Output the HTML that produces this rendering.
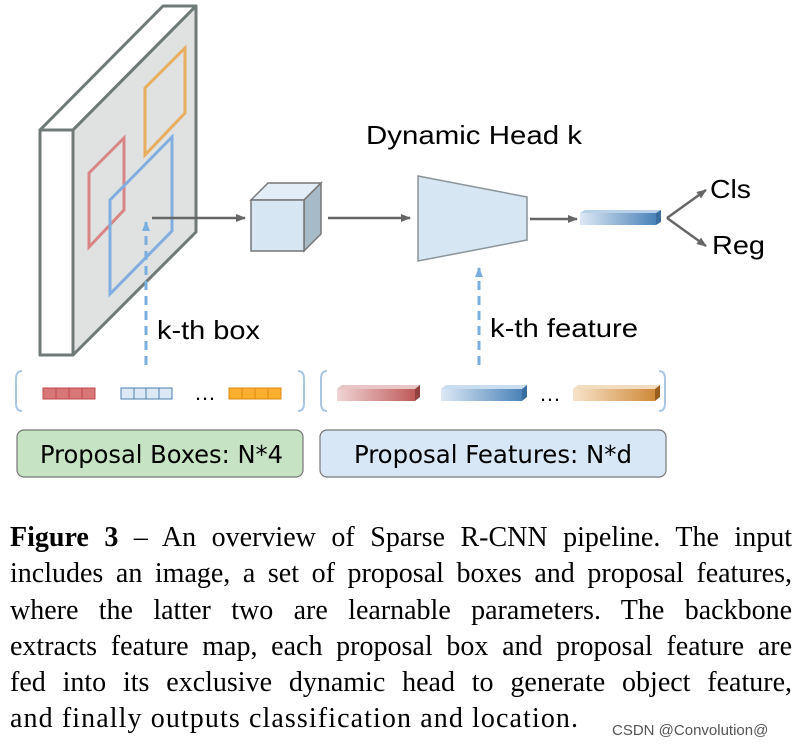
<!DOCTYPE html>
<html><head><style>
body{margin:0;background:#fff;width:802px;height:748px;overflow:hidden;position:relative}
.cap{position:absolute;left:10px;width:782px;font-family:"Liberation Serif",serif;font-size:28px;line-height:36.3px;top:520px;color:#000}
.cap div{text-align:justify;text-align-last:justify;white-space:nowrap}
.cap div.last{text-align-last:left;letter-spacing:1.1px}
</style></head><body>
<svg width="802" height="500" style="position:absolute;left:0;top:0" font-family="Liberation Sans, sans-serif">
<defs>
<marker id="ag" markerWidth="10" markerHeight="10" refX="9" refY="5" orient="auto" markerUnits="userSpaceOnUse"><path d="M0,1 L10,5 L0,9z" fill="#666"/></marker>
<marker id="ab" markerWidth="10" markerHeight="10" refX="9" refY="5" orient="auto" markerUnits="userSpaceOnUse"><path d="M0,1 L10,5 L0,9z" fill="#7aaede"/></marker>
<linearGradient id="gr" x1="0" x2="1"><stop offset="0" stop-color="#f0d4d4"/><stop offset="1" stop-color="#c05a5a"/></linearGradient>
<linearGradient id="gb" x1="0" x2="1"><stop offset="0" stop-color="#dde9f5"/><stop offset="1" stop-color="#4a82b8"/></linearGradient>
<linearGradient id="go" x1="0" x2="1"><stop offset="0" stop-color="#f7e3c9"/><stop offset="1" stop-color="#d08a3a"/></linearGradient>
</defs>
<g stroke="#6f7a78" stroke-width="3" stroke-linejoin="round">
<polygon points="40,130 163,6 196,6 73,130" fill="#fff"/>
<polygon points="73,130 196,6 196,232 73,355" fill="#dfe2e1"/>
<rect x="40" y="130" width="33" height="225" fill="#fff"/>
</g>
<g fill="none" stroke-width="3">
<polygon points="145,88 185,48 185,113 145,155" stroke="#e8ad5f"/>
<polygon points="89,173 124,138 124,210 89,247" stroke="#d98585"/>
<polygon points="110,200 172,137 172,231 110,294" stroke="#80aee0"/>
</g>
<line x1="152" y1="218" x2="245" y2="218" stroke="#666" stroke-width="2.5" marker-end="url(#ag)"/>
<line x1="146" y1="365" x2="146" y2="222" stroke="#7aaede" stroke-width="3" stroke-dasharray="9,6" marker-end="url(#ab)"/>
<text x="157" y="339" font-size="26" textLength="103" lengthAdjust="spacingAndGlyphs">k-th box</text>
<g stroke="#777" stroke-width="1.5">
<polygon points="251,200 268,183 321,183 304,200" fill="#e2edf7"/>
<polygon points="304,200 321,183 321,234 304,251" fill="#a7bac8"/>
<rect x="251" y="200" width="53" height="51" fill="#d6e6f3"/>
</g>
<line x1="328" y1="218" x2="410" y2="218" stroke="#666" stroke-width="2.5" marker-end="url(#ag)"/>
<text x="366" y="144" font-size="26" textLength="216" lengthAdjust="spacingAndGlyphs">Dynamic Head k</text>
<polygon points="418,176 527,197 527,240 418,261" fill="#d7e6f3" stroke="#8a9499" stroke-width="1.5"/>
<line x1="530" y1="219" x2="577" y2="219" stroke="#666" stroke-width="2.5" marker-end="url(#ag)"/>
<polygon points="580,213 585,210 661,210 656,213" fill="#b9d1e8"/>
<polygon points="656,213 661,210 661,222 656,225" fill="#3a6e9e"/>
<rect x="580" y="213" width="76" height="12" fill="url(#gb)"/>
<line x1="667" y1="218" x2="706" y2="190" stroke="#666" stroke-width="2.5" marker-end="url(#ag)"/>
<line x1="667" y1="218" x2="706" y2="246" stroke="#666" stroke-width="2.5" marker-end="url(#ag)"/>
<text x="710" y="198" font-size="26" textLength="41" lengthAdjust="spacingAndGlyphs">Cls</text>
<text x="712" y="254" font-size="26" textLength="53" lengthAdjust="spacingAndGlyphs">Reg</text>
<line x1="479" y1="365" x2="479" y2="268" stroke="#7aaede" stroke-width="3" stroke-dasharray="9,6" marker-end="url(#ab)"/>
<text x="490" y="337" font-size="26" textLength="148" lengthAdjust="spacingAndGlyphs">k-th feature</text>
<g fill="none" stroke="#a9c6e4" stroke-width="2">
<path d="M22,371 Q16,371 16,379 V403 Q16,411 22,411"/>
<path d="M298,371 Q304,371 304,379 V403 Q304,411 298,411"/>
<path d="M327,371 Q321,371 321,379 V403 Q321,411 327,411"/>
<path d="M659,371 Q665,371 665,379 V403 Q665,411 659,411"/>
</g>
<g stroke-width="1">
<rect x="43" y="388" width="52" height="11" fill="#d87777" stroke="#c04848"/>
<path d="M56,388v11M69,388v11M82,388v11" stroke="#c04848"/>
<rect x="121" y="388" width="51" height="11" fill="#dbe9f6" stroke="#4d7fae"/>
<path d="M134,388v11M146,388v11M159,388v11" stroke="#4d7fae"/>
<rect x="229" y="388" width="52" height="11" fill="#fcae2e" stroke="#e08a12"/>
<path d="M242,388v11M255,388v11M268,388v11" stroke="#e08a12"/>
</g>
<text x="194" y="400" font-size="22">…</text>
<g>
<polygon points="337,389 342,385 420,385 415,389" fill="#e9c6c6"/><polygon points="415,389 420,385 420,397 415,401" fill="#934040"/><rect x="337" y="389" width="78" height="12" fill="url(#gr)"/>
<polygon points="441,389 446,385 527,385 522,389" fill="#c9ddf0"/><polygon points="522,389 527,385 527,397 522,401" fill="#3a6e9e"/><rect x="441" y="389" width="81" height="12" fill="url(#gb)"/>
<polygon points="573,389 578,385 660,385 655,389" fill="#f1dcc0"/><polygon points="655,389 660,385 660,397 655,401" fill="#9a5e1e"/><rect x="573" y="389" width="82" height="12" fill="url(#go)"/>
</g>
<text x="539" y="401" font-size="22">…</text>
<rect x="17" y="430" width="286" height="47" rx="7" fill="#c6e3c3" stroke="#777" stroke-width="1.2"/>
<rect x="320" y="430" width="346" height="47" rx="7" fill="#d8e7f5" stroke="#777" stroke-width="1.2"/>
<text x="40" y="463" font-size="25" textLength="243" lengthAdjust="spacingAndGlyphs" font-family="DejaVu Sans Condensed, DejaVu Sans, sans-serif">Proposal Boxes: N*4</text>
<text x="354" y="463" font-size="25" textLength="278" lengthAdjust="spacingAndGlyphs" font-family="DejaVu Sans Condensed, DejaVu Sans, sans-serif">Proposal Features: N*d</text>
</svg>
<div class="cap">
<div><b>Figure 3</b> – An overview of Sparse R-CNN pipeline. The input</div>
<div>includes an image, a set of proposal boxes and proposal features,</div>
<div>where the latter two are learnable parameters. The backbone</div>
<div>extracts feature map, each proposal box and proposal feature are</div>
<div>fed into its exclusive dynamic head to generate object feature,</div>
<div class="last">and finally outputs classification and location.</div>
</div>
<div style="position:absolute;left:612px;top:722px;font-family:'Liberation Sans',sans-serif;font-size:15px;color:#555">CSDN @Convolution@</div>
</body></html>
